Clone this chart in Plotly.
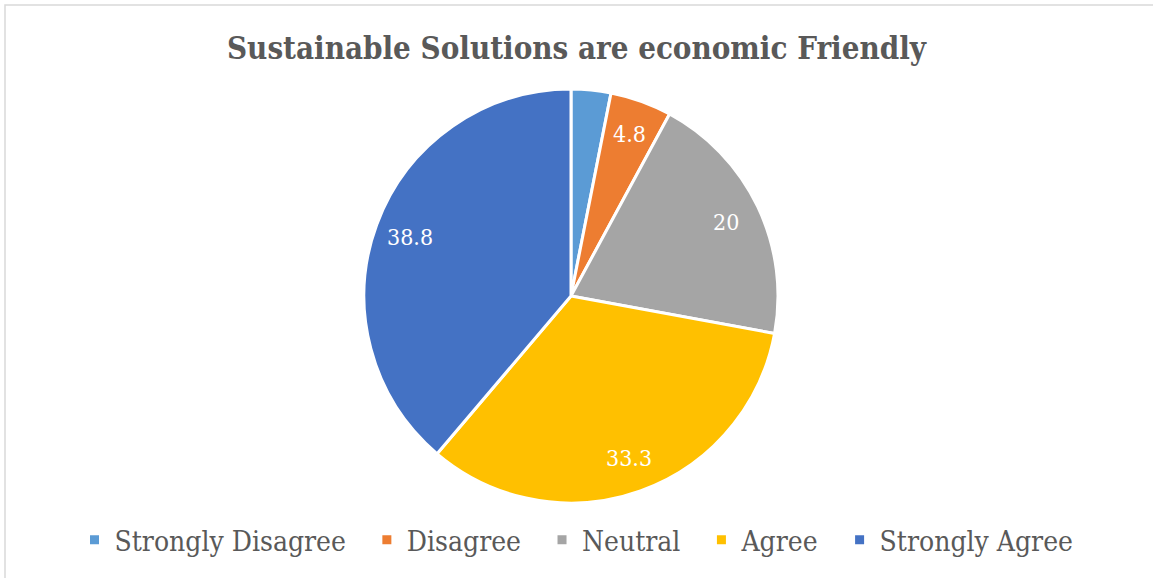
import math
import plotly.graph_objects as go

# Survey responses (percent)
categories = ["Strongly Disagree", "Disagree", "Neutral", "Agree", "Strongly Agree"]
values = [3.1, 4.8, 20, 33.3, 38.8]
show_label = [False, True, True, True, True]
colors = ["#5B9BD5", "#ED7D31", "#A5A5A5", "#FFC000", "#4472C4"]

SERIF = "DejaVu Serif Condensed, DejaVu Serif"

W, H = 1153, 578
cx, cy, r = 571, 296, 207
label_radius = 0.83  # fraction of the pie radius where value labels sit

# Legend entries get a little trailing space so the items spread out more
pad = "\u00a0\u00a0"
legend_names = [c + pad if i < len(categories) - 1 else c for i, c in enumerate(categories)]

fig = go.Figure(
    go.Pie(
        labels=legend_names,
        values=values,
        textinfo="none",
        sort=False,
        direction="clockwise",
        rotation=0,
        marker=dict(colors=colors, line=dict(color="white", width=3)),
        domain=dict(
            x=[(cx - r) / W, (cx + r) / W],
            y=[(H - (cy + r)) / H, (H - (cy - r)) / H],
        ),
        hoverinfo="label+value",
    )
)

# Value labels placed along each slice's mid-angle (clockwise from 12 o'clock)
total = sum(values)
annotations = []
cum = 0.0
for v, show in zip(values, show_label):
    mid = (cum + v / 2) / total * 2 * math.pi
    cum += v
    if not show:
        continue
    px = cx + label_radius * r * math.sin(mid)
    py = cy - label_radius * r * math.cos(mid)
    annotations.append(
        dict(
            x=px / W,
            y=1 - py / H,
            xref="paper",
            yref="paper",
            text=f"{v:g}",
            showarrow=False,
            xanchor="center",
            yanchor="middle",
            font=dict(family=SERIF, size=23, color="white"),
        )
    )

fig.update_layout(
    width=W,
    height=H,
    margin=dict(l=0, r=0, t=0, b=0),
    paper_bgcolor="white",
    plot_bgcolor="white",
    title=dict(
        text="Sustainable Solutions are economic Friendly",
        x=0.5,
        xanchor="center",
        y=1 - 48 / H,
        yanchor="middle",
        yref="container",
        font=dict(family=SERIF, size=31, color="#595959", weight="bold"),
    ),
    legend=dict(
        orientation="h",
        x=0.5,
        xanchor="center",
        y=(H - 540) / H,
        yanchor="middle",
        font=dict(family=SERIF, size=28, color="#595959"),
        itemwidth=30,
        traceorder="normal",
    ),
    annotations=annotations,
    shapes=[
        dict(
            type="rect",
            xref="paper",
            yref="paper",
            x0=5 / W,
            x1=1.05,
            y0=-0.05,
            y1=1 - 5 / H,
            line=dict(color="#D9D9D9", width=1.5),
            fillcolor="rgba(0,0,0,0)",
            layer="below",
        )
    ],
)

fig.write_html("out.html")
